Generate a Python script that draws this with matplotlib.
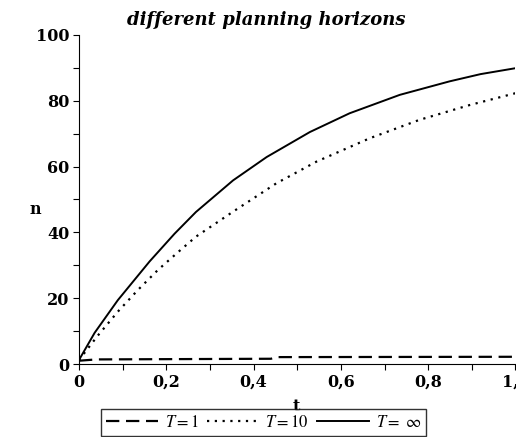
import numpy as np
import matplotlib
matplotlib.use('Agg')
import matplotlib.pyplot as plt
from matplotlib.ticker import MultipleLocator, FuncFormatter

# values
t_inf = [0.0, 0.036, 0.089, 0.162, 0.219, 0.268, 0.353, 0.43, 0.529, 0.62, 0.735, 0.849, 0.92, 1.0]
n_inf = [1.2, 9.5, 19.4, 31.2, 39.6, 46.2, 55.8, 62.9, 70.5, 76.2, 81.8, 85.9, 88.1, 89.9]

t_10 = [0.0, 0.043, 0.089, 0.135, 0.181, 0.227, 0.268, 0.353, 0.452, 0.544, 0.666, 0.78, 0.895, 1.0]
n_10 = [1.2, 8.6, 15.9, 22.5, 28.6, 34.0, 38.7, 46.3, 54.9, 61.5, 68.6, 74.2, 78.7, 82.3]

t_1 = [0.0, 0.04, 0.44, 0.45, 1.0]
n_1 = [1.0, 1.4, 1.6, 2.1, 2.2]

labels = ['$T = 1$', '$T = 10$', r'$T = \ \infty$']

plt.rcParams['font.family'] = 'DejaVu Serif'
plt.rcParams['mathtext.fontset'] = 'stix'

fig = plt.figure(figsize=(5.16, 4.37), dpi=100)
ax = fig.add_axes([0.153, 0.167, 0.846, 0.753])

ax.plot(t_1, n_1, color='black', lw=1.6, linestyle=(0, (6, 3)), label=labels[0])
ax.plot(t_10, n_10, color='black', lw=1.6, linestyle=(0, (1, 2.5)), label=labels[1])
ax.plot(t_inf, n_inf, color='black', lw=1.4, label=labels[2])

ax.set_xlim(0, 1)
ax.set_ylim(0, 100)
ax.spines['top'].set_visible(False)
ax.spines['right'].set_visible(False)
ax.xaxis.set_major_locator(MultipleLocator(0.2))
ax.xaxis.set_minor_locator(MultipleLocator(0.1))
ax.yaxis.set_major_locator(MultipleLocator(20))
ax.yaxis.set_minor_locator(MultipleLocator(10))
ax.xaxis.set_major_formatter(FuncFormatter(lambda v, p: '0' if v == 0 else ('1' if v == 1 else ('%.1f' % v).replace('.', ','))))
ax.tick_params(which='both', length=4, width=0.8, direction='out')
ax.tick_params(labelsize=11.5, pad=3)
for lab in ax.get_xticklabels() + ax.get_yticklabels():
    lab.set_fontweight('bold')

ax.set_xlabel('t', fontsize=11.5, fontweight='bold', va='center')
ax.xaxis.set_label_coords(0.497, -0.13)
ax.set_ylabel('n', fontsize=11.5, fontweight='bold', rotation=0, va='center', ha='center')
ax.yaxis.set_label_coords(-0.1, 0.47)
ax.set_title('different planning horizons', fontsize=13, fontweight='bold', style='italic', pad=7, x=0.43)

leg = fig.legend(loc='center', bbox_to_anchor=(0.511, 0.034), ncol=3, frameon=True,
                 fancybox=False, edgecolor='black', fontsize=12, handlelength=3.1,
                 handletextpad=0.4, columnspacing=0.5, borderpad=0.3)
leg.get_frame().set_linewidth(1.0)

fig.savefig('out.png', dpi=100)
